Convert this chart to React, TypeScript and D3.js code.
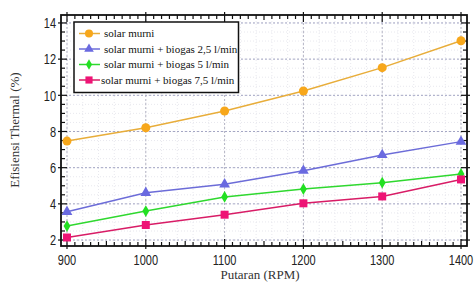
import React, { useRef, useEffect } from "react";
import * as d3 from "d3";

const RPM = [900, 1000, 1100, 1200, 1300, 1400];
const SOLAR = [7.47, 8.21, 9.13, 10.24, 11.53, 13.02];
const BIOGAS_25 = [3.56, 4.61, 5.08, 5.83, 6.7, 7.44];
const BIOGAS_5 = [2.77, 3.6, 4.38, 4.82, 5.17, 5.65];
const BIOGAS_75 = [2.14, 2.83, 3.4, 4.03, 4.41, 5.35];

const SERIES_NAMES = [
  "solar murni",
  "solar murni + biogas 2,5 l/min",
  "solar murni + biogas 5 l/min",
  "solar murni + biogas 7,5 l/min",
];
const Y_TICKS = [2, 4, 6, 8, 10, 12, 14];
const X_TICKS = [900, 1000, 1100, 1200, 1300, 1400];

const X_TITLE = "Putaran (RPM)";
const Y_TITLE = "Efisiensi Thermal (%)";

const SERIF = "'Liberation Serif', 'DejaVu Serif', serif";
const SANS = "'Liberation Sans', Arial, sans-serif";

const STYLES = [
  { line: "#e8ad3a", fill: "#f7a71b", symbol: d3.symbolCircle, size: 64 },
  { line: "#6c6cd8", fill: "#6a6ae0", symbol: d3.symbolTriangle, size: 50 },
  { line: "#2fd82f", fill: "#22e022", symbol: d3.symbolDiamond, size: 40 },
  { line: "#d81c66", fill: "#ee1475", symbol: d3.symbolSquare, size: 64 },
];

export default function App() {
  const svgRef = useRef<SVGSVGElement>(null);
  const width = 474;
  const height = 294;

  useEffect(() => {
    if (!svgRef.current) return;
    const svg = d3.select(svgRef.current);
    svg.selectAll("*").remove();

    const left = 61;
    const right = 467;
    const top = 15;
    const bottom = 246;

    const x = d3.scaleLinear().domain([892.4, 1407.6]).range([left, right]);
    const y = d3.scaleLinear().domain([1.67, 14.44]).range([bottom, top]);

    svg.append("rect").attr("width", width).attr("height", height).attr("fill", "#fff");

    // minor grid
    const g = svg.append("g");
    d3.range(2, 14.01, 0.5).forEach((v) => {
      g.append("line")
        .attr("x1", left).attr("x2", right)
        .attr("y1", y(v)).attr("y2", y(v))
        .attr("stroke", "#e2e2ea").attr("stroke-width", 0.8)
        .attr("stroke-dasharray", "1,2");
    });
    d3.range(900, 1401, 20).forEach((v) => {
      g.append("line")
        .attr("x1", x(v)).attr("x2", x(v))
        .attr("y1", top).attr("y2", bottom)
        .attr("stroke", "#e2e2ea").attr("stroke-width", 0.8)
        .attr("stroke-dasharray", "1,2");
    });
    // major grid
    Y_TICKS.forEach((v) => {
      g.append("line")
        .attr("x1", left).attr("x2", right)
        .attr("y1", y(v)).attr("y2", y(v))
        .attr("stroke", "#a4a6c4").attr("stroke-width", 1)
        .attr("stroke-dasharray", "2,2");
    });
    X_TICKS.forEach((v) => {
      g.append("line")
        .attr("x1", x(v)).attr("x2", x(v))
        .attr("y1", top).attr("y2", bottom)
        .attr("stroke", "#b4b4c4").attr("stroke-width", 1)
        .attr("stroke-dasharray", "2,2");
    });

    // ticks on all four sides
    const ax = svg.append("g").attr("stroke", "#111").attr("stroke-width", 1.2);
    d3.range(900, 1401, 10).forEach((v) => {
      const major = v % 100 === 0;
      const mid = v % 50 === 0;
      const inLen = major ? 7 : mid ? 5 : 4;
      const outLen = major ? 3 : 0;
      ax.append("line").attr("x1", x(v)).attr("x2", x(v))
        .attr("y1", bottom + outLen).attr("y2", bottom - inLen);
      ax.append("line").attr("x1", x(v)).attr("x2", x(v))
        .attr("y1", top - outLen).attr("y2", top + inLen);
    });
    d3.range(2, 14.01, 0.5).forEach((v) => {
      const major = Math.abs(v % 2) < 1e-6;
      const inLen = major ? 6 : 4;
      const outLen = major ? 3 : 0;
      ax.append("line").attr("y1", y(v)).attr("y2", y(v))
        .attr("x1", left - outLen).attr("x2", left + inLen);
      ax.append("line").attr("y1", y(v)).attr("y2", y(v))
        .attr("x1", right + outLen).attr("x2", right - inLen);
    });

    // frame
    svg.append("rect")
      .attr("x", left).attr("y", top)
      .attr("width", right - left).attr("height", bottom - top)
      .attr("fill", "none").attr("stroke", "#111").attr("stroke-width", 1.8);

    // tick labels (vertically stretched like the source image)
    Y_TICKS.forEach((v) => {
      svg.append("g")
        .attr("transform", `translate(56,${y(v)}) scale(1,1.35)`)
        .append("text")
        .attr("text-anchor", "end")
        .attr("dy", "0.35em")
        .style("font-family", SANS)
        .style("font-size", "11px")
        .attr("fill", "#222")
        .text(v);
    });
    X_TICKS.forEach((v) => {
      svg.append("g")
        .attr("transform", `translate(${x(v)},260) scale(1,1.35)`)
        .append("text")
        .attr("text-anchor", "middle")
        .attr("dy", "0.35em")
        .style("font-family", SANS)
        .style("font-size", "11px")
        .attr("fill", "#222")
        .text(v);
    });

    // axis titles
    svg.append("text")
      .attr("x", 260).attr("y", 279)
      .attr("text-anchor", "middle")
      .style("font-family", SERIF)
      .style("font-size", "13px")
      .attr("fill", "#333")
      .text(X_TITLE);
    svg.append("text")
      .attr("transform", `translate(19,130) rotate(-90)`)
      .attr("text-anchor", "middle")
      .style("font-family", SERIF)
      .style("font-size", "13px")
      .attr("fill", "#333")
      .text(Y_TITLE);

    // series
    const allSeries = [SOLAR, BIOGAS_25, BIOGAS_5, BIOGAS_75];
    const line = d3.line<number>()
      .x((_, i) => x(RPM[i]))
      .y((d) => y(d));

    allSeries.forEach((data, idx) => {
      const st = STYLES[idx];
      svg.append("path")
        .datum(data)
        .attr("d", line)
        .attr("fill", "none")
        .attr("stroke", st.line)
        .attr("stroke-width", 1.5);
      const sym = d3.symbol().type(st.symbol).size(st.size);
      data.forEach((d, i) => {
        svg.append("path")
          .attr("d", sym()!)
          .attr("transform", `translate(${x(RPM[i])},${y(d)})`)
          .attr("fill", st.fill);
      });
    });

    // legend
    const legend = svg.append("g");
    legend.append("rect")
      .attr("x", 74).attr("y", 22)
      .attr("width", 164.5).attr("height", 70.5)
      .attr("fill", "#fff")
      .attr("stroke", "#111").attr("stroke-width", 1.5);
    SERIES_NAMES.forEach((name, idx) => {
      const st = STYLES[idx];
      const ly = 33.5 + idx * 15.5;
      legend.append("line")
        .attr("x1", 79).attr("x2", 100)
        .attr("y1", ly).attr("y2", ly)
        .attr("stroke", st.line).attr("stroke-width", 1.5);
      legend.append("path")
        .attr("d", d3.symbol().type(st.symbol).size(st.size * 0.8)()!)
        .attr("transform", `translate(89,${ly})`)
        .attr("fill", st.fill);
      legend.append("text")
        .attr("x", idx === 3 ? 101 : 104)
        .attr("y", ly + 3.8)
        .style("font-family", SERIF)
        .style("font-size", "11px")
        .attr("fill", "#111")
        .text(name);
    });
  }, []);

  return (
    <svg
      ref={svgRef}
      width={width}
      height={height}
      viewBox={`0 0 ${width} ${height}`}
      style={{ position: "absolute", left: 0, top: 0 }}
    />
  );
}
